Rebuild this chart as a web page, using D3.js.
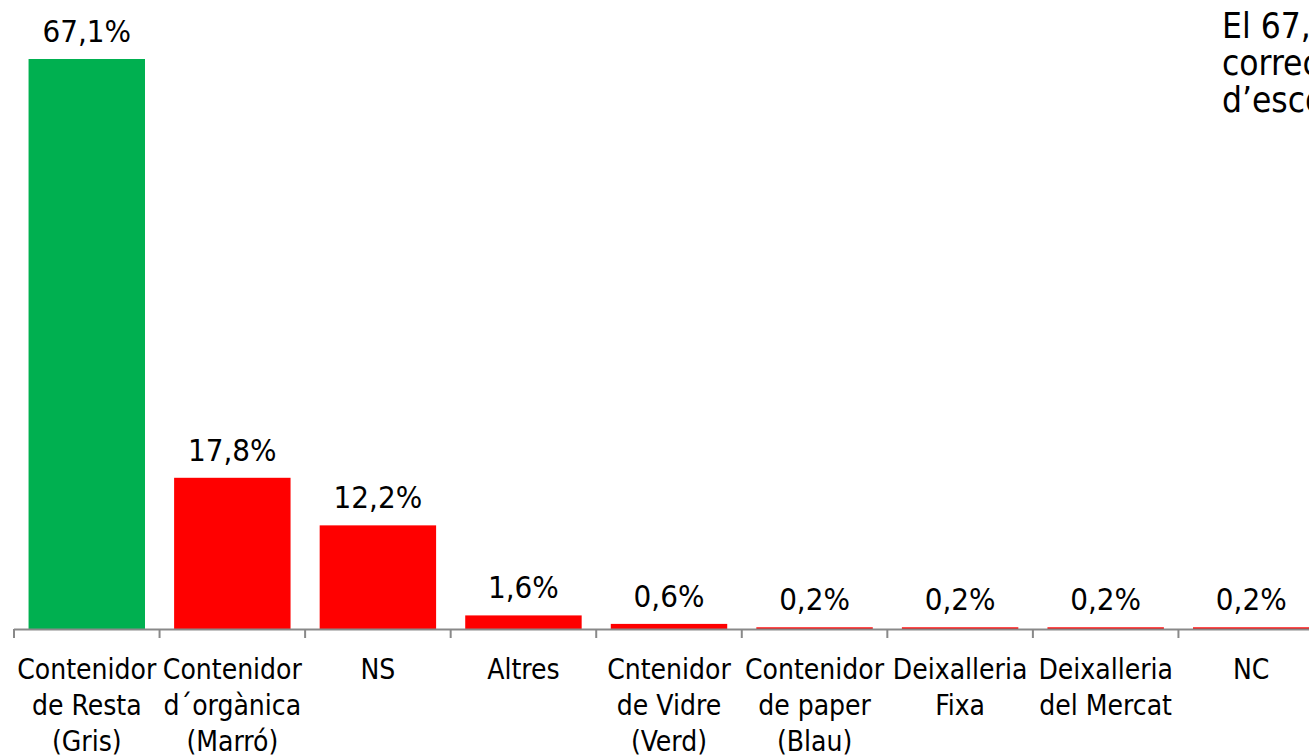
<!DOCTYPE html>
<html>
<head>
  <meta charset="utf-8">
  <script src="https://cdn.jsdelivr.net/npm/d3@7"></script>
</head>
<style>
  body { margin: 0; background: #fff; overflow: hidden; }
  text { font-family: "DejaVu Sans Condensed", "DejaVu Sans", sans-serif; fill: #000; }
</style>
<body>
  <svg id="chart" width="1309" height="756"></svg>
  <script>
    // data
    var categories = ['Contenidor de Resta (Gris)', 'Contenidor d´orgànica (Marró)', 'NS', 'Altres',
      'Cntenidor de Vidre (Verd)', 'Contenidor de paper (Blau)', 'Deixalleria Fixa', 'Deixalleria del Mercat', 'NC'];
    var catLines = [
      ['Contenidor', 'de Resta', '(Gris)'],
      ['Contenidor', 'd´orgànica', '(Marró)'],
      ['NS'],
      ['Altres'],
      ['Cntenidor', 'de Vidre', '(Verd)'],
      ['Contenidor', 'de paper', '(Blau)'],
      ['Deixalleria', 'Fixa'],
      ['Deixalleria', 'del Mercat'],
      ['NC']
    ];
    var values = [67.1, 17.8, 12.2, 1.6, 0.6, 0.2, 0.2, 0.2, 0.2];
    var valueLabels = ['67,1%', '17,8%', '12,2%', '1,6%', '0,6%', '0,2%', '0,2%', '0,2%', '0,2%'];
    var noteLines = ['El 67,1% dels enquestats', 'correctament al contenidor', 'd’escombraries'];

    var svg = d3.select('#chart');
    var baseY = 629;

    var x = d3.scaleBand().domain(categories).range([14, 1324]).paddingInner(0.2).paddingOuter(0.1);
    var y = d3.scaleLinear().domain([0, 67.1]).range([baseY, 59]);

    // bars
    svg.selectAll('rect.bar').data(values).enter().append('rect')
      .attr('class', 'bar')
      .attr('x', function (d, i) { return x(categories[i]); })
      .attr('width', x.bandwidth())
      .attr('y', function (d) { return y(d); })
      .attr('height', function (d) { return baseY - y(d); })
      .attr('fill', function (d, i) { return i === 0 ? '#00b050' : '#ff0000'; });

    // value labels
    svg.selectAll('text.val').data(values).enter().append('text')
      .attr('class', 'val')
      .attr('x', function (d, i) { return x(categories[i]) + x.bandwidth() / 2; })
      .attr('y', function (d) { return y(d) - 17; })
      .attr('text-anchor', 'middle')
      .style('font-size', '31px')
      .text(function (d, i) { return valueLabels[i]; });

    // axis line + ticks at category boundaries
    var step = x.step();
    var bounds = d3.range(categories.length + 1).map(function (i) { return 14 + i * step; });
    svg.append('line').attr('x1', 14).attr('x2', 1324).attr('y1', baseY + 0.5).attr('y2', baseY + 0.5)
      .attr('stroke', '#898989').attr('stroke-width', 2);
    svg.selectAll('line.tick').data(bounds).enter().append('line')
      .attr('class', 'tick')
      .attr('x1', function (d) { return d; }).attr('x2', function (d) { return d; })
      .attr('y1', baseY).attr('y2', baseY + 9)
      .attr('stroke', '#898989').attr('stroke-width', 2);

    // category labels
    var cat = svg.selectAll('g.cat').data(catLines).enter().append('g').attr('class', 'cat');
    cat.selectAll('text').data(function (d, i) {
      return d.map(function (s, j) { return { s: s, j: j, i: i }; });
    }).enter().append('text')
      .attr('x', function (d) { return x(categories[d.i]) + x.bandwidth() / 2; })
      .attr('y', function (d) { return 679 + d.j * 36; })
      .attr('text-anchor', 'middle')
      .style('font-size', '28px')
      .text(function (d) { return d.s; });

    // side note (clipped by the window)
    svg.selectAll('text.note').data(noteLines).enter().append('text')
      .attr('class', 'note')
      .attr('x', 1222)
      .attr('y', function (d, i) { return 38 + i * 37; })
      .style('font-size', '35px')
      .text(function (d) { return d; });
  </script>
</body>
</html>
